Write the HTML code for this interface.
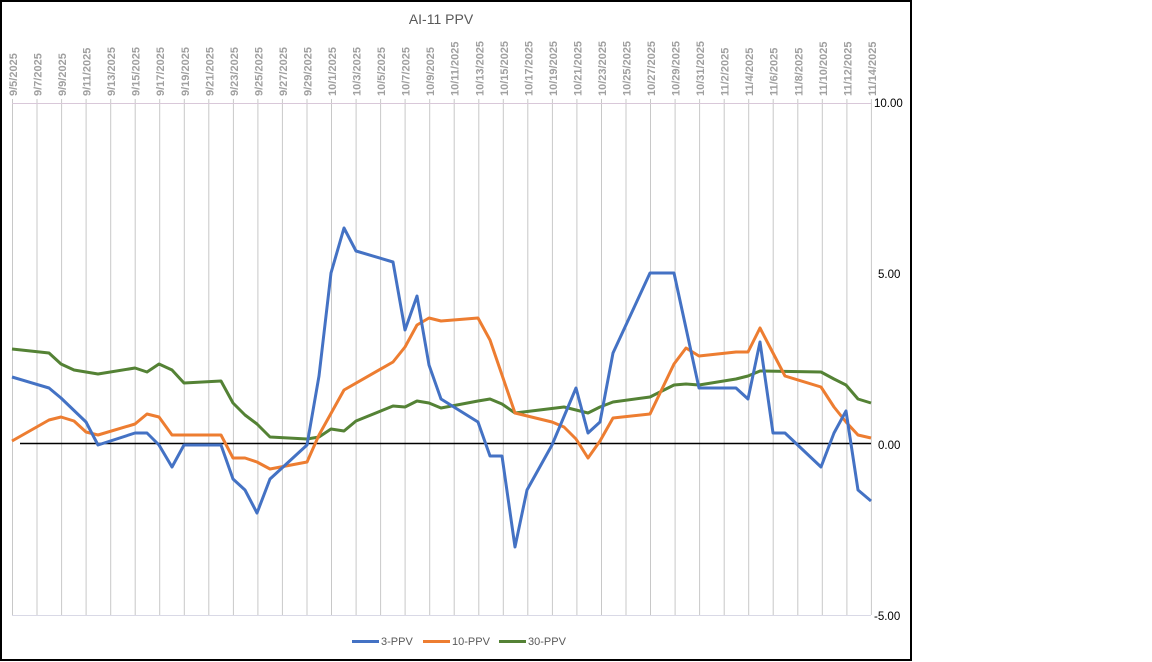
<!DOCTYPE html>
<html><head><meta charset="utf-8"><style>html,body{margin:0;padding:0;background:#fff}svg{display:block}</style></head>
<body>
<svg width="1152" height="662" viewBox="0 0 1152 662" xmlns="http://www.w3.org/2000/svg" font-family="Liberation Sans, sans-serif">
<rect x="0" y="0" width="1152" height="662" fill="#fff"/>
<rect x="1" y="1" width="910" height="659" fill="none" stroke="#000" stroke-width="2"/>
<text x="441" y="24" font-size="14" fill="#595959" text-anchor="middle">AI-11 PPV</text>
<g stroke="#c8c8c8" stroke-width="1">
<line x1="12.5" y1="99" x2="12.5" y2="615"/><line x1="37" y1="99" x2="37" y2="615"/><line x1="61.6" y1="99" x2="61.6" y2="615"/><line x1="86.1" y1="99" x2="86.1" y2="615"/><line x1="110.7" y1="99" x2="110.7" y2="615"/><line x1="135.2" y1="99" x2="135.2" y2="615"/><line x1="159.7" y1="99" x2="159.7" y2="615"/><line x1="184.3" y1="99" x2="184.3" y2="615"/><line x1="208.8" y1="99" x2="208.8" y2="615"/><line x1="233.4" y1="99" x2="233.4" y2="615"/><line x1="257.9" y1="99" x2="257.9" y2="615"/><line x1="282.4" y1="99" x2="282.4" y2="615"/><line x1="307" y1="99" x2="307" y2="615"/><line x1="331.5" y1="99" x2="331.5" y2="615"/><line x1="356.1" y1="99" x2="356.1" y2="615"/><line x1="380.6" y1="99" x2="380.6" y2="615"/><line x1="405.1" y1="99" x2="405.1" y2="615"/><line x1="429.7" y1="99" x2="429.7" y2="615"/><line x1="454.2" y1="99" x2="454.2" y2="615"/><line x1="478.8" y1="99" x2="478.8" y2="615"/><line x1="503.3" y1="99" x2="503.3" y2="615"/><line x1="527.8" y1="99" x2="527.8" y2="615"/><line x1="552.4" y1="99" x2="552.4" y2="615"/><line x1="576.9" y1="99" x2="576.9" y2="615"/><line x1="601.5" y1="99" x2="601.5" y2="615"/><line x1="626" y1="99" x2="626" y2="615"/><line x1="650.5" y1="99" x2="650.5" y2="615"/><line x1="675.1" y1="99" x2="675.1" y2="615"/><line x1="699.6" y1="99" x2="699.6" y2="615"/><line x1="724.2" y1="99" x2="724.2" y2="615"/><line x1="748.7" y1="99" x2="748.7" y2="615"/><line x1="773.2" y1="99" x2="773.2" y2="615"/><line x1="797.8" y1="99" x2="797.8" y2="615"/><line x1="822.3" y1="99" x2="822.3" y2="615"/><line x1="846.9" y1="99" x2="846.9" y2="615"/><line x1="871.4" y1="99" x2="871.4" y2="615"/>
</g>
<line x1="12" y1="103.5" x2="871" y2="103.5" stroke="#d9c8d9" stroke-width="1"/>
<line x1="12" y1="615.5" x2="871" y2="615.5" stroke="#d9d9e6" stroke-width="1"/>
<g font-size="11" font-weight="bold" fill="#a0a0a0" text-anchor="start">
<text transform="translate(17,96) rotate(-90)">9/5/2025</text>
<text transform="translate(41.5,96) rotate(-90)">9/7/2025</text>
<text transform="translate(66.1,96) rotate(-90)">9/9/2025</text>
<text transform="translate(90.6,96) rotate(-90)">9/11/2025</text>
<text transform="translate(115.2,96) rotate(-90)">9/13/2025</text>
<text transform="translate(139.7,96) rotate(-90)">9/15/2025</text>
<text transform="translate(164.2,96) rotate(-90)">9/17/2025</text>
<text transform="translate(188.8,96) rotate(-90)">9/19/2025</text>
<text transform="translate(213.3,96) rotate(-90)">9/21/2025</text>
<text transform="translate(237.9,96) rotate(-90)">9/23/2025</text>
<text transform="translate(262.4,96) rotate(-90)">9/25/2025</text>
<text transform="translate(286.9,96) rotate(-90)">9/27/2025</text>
<text transform="translate(311.5,96) rotate(-90)">9/29/2025</text>
<text transform="translate(336,96) rotate(-90)">10/1/2025</text>
<text transform="translate(360.6,96) rotate(-90)">10/3/2025</text>
<text transform="translate(385.1,96) rotate(-90)">10/5/2025</text>
<text transform="translate(409.6,96) rotate(-90)">10/7/2025</text>
<text transform="translate(434.2,96) rotate(-90)">10/9/2025</text>
<text transform="translate(458.7,96) rotate(-90)">10/11/2025</text>
<text transform="translate(483.3,96) rotate(-90)">10/13/2025</text>
<text transform="translate(507.8,96) rotate(-90)">10/15/2025</text>
<text transform="translate(532.3,96) rotate(-90)">10/17/2025</text>
<text transform="translate(556.9,96) rotate(-90)">10/19/2025</text>
<text transform="translate(581.4,96) rotate(-90)">10/21/2025</text>
<text transform="translate(606,96) rotate(-90)">10/23/2025</text>
<text transform="translate(630.5,96) rotate(-90)">10/25/2025</text>
<text transform="translate(655,96) rotate(-90)">10/27/2025</text>
<text transform="translate(679.6,96) rotate(-90)">10/29/2025</text>
<text transform="translate(704.1,96) rotate(-90)">10/31/2025</text>
<text transform="translate(728.7,96) rotate(-90)">11/2/2025</text>
<text transform="translate(753.2,96) rotate(-90)">11/4/2025</text>
<text transform="translate(777.7,96) rotate(-90)">11/6/2025</text>
<text transform="translate(802.3,96) rotate(-90)">11/8/2025</text>
<text transform="translate(826.8,96) rotate(-90)">11/10/2025</text>
<text transform="translate(851.4,96) rotate(-90)">11/12/2025</text>
<text transform="translate(875.9,96) rotate(-90)">11/14/2025</text>
</g>
<g font-size="11.5" fill="#000">
<text x="874" y="107">10.00</text>
<text x="878" y="278">5.00</text>
<text x="878" y="449">0.00</text>
<text x="874" y="620">-5.00</text>
</g>
<line x1="20" y1="443.5" x2="871" y2="443.5" stroke="#000" stroke-width="1.5"/>
<polyline fill="none" stroke="#548235" stroke-width="3" stroke-linejoin="round" points="12,349 49,353 61,364 74,370 98,374 135,368 147,372 159,364 172,370 184,383 221,381 233,403 245,415 257,424 270,437 307,439 319,437 331,429 344,431 356,421 393,406 405,407 417,401 429,403 441,408 478,401 490,399 502,404 515,413 564,407 588,413 600,407 613,402 650,397 674,385 686,384 699,385 736,379 748,376 760,371 821,372 834,379 846,385 858,399 871,403"/>
<polyline fill="none" stroke="#ed7d31" stroke-width="3" stroke-linejoin="round" points="12,441 49,420 61,417 74,421 86,432 98,435 135,424 147,414 159,417 172,435 221,435 233,458 245,458 257,462 270,469 307,462 319,435 344,390 393,362 405,347 417,325 429,318 441,321 478,318 490,340 502,375 515,413 552,422 564,427 576,439 588,458 600,441 613,418 650,414 674,364 686,348 699,356 736,352 748,352 760,328 773,353 785,376 821,387 834,407 846,422 858,435 871,438"/>
<polyline fill="none" stroke="#4472c4" stroke-width="3" stroke-linejoin="round" points="12,377 49,388 61,398 86,422 98,445 135,433 147,433 159,445 172,467 184,445 221,445 233,479 245,490 257,513 270,479 307,445 319,376 331,273 344,228 356,251 393,262 405,330 417,296 429,365 441,399 478,422 490,456 502,456 515,547 527,490 552,445 576,388 588,433 600,422 613,353 650,273 674,273 699,388 736,388 748,399 760,342 773,433 785,433 821,467 834,433 846,411 858,490 871,501"/>
<g font-size="11" fill="#595959">
<line x1="352" y1="641.5" x2="379" y2="641.5" stroke="#4472c4" stroke-width="3"/><text x="381" y="645">3-PPV</text>
<line x1="423" y1="641.5" x2="450" y2="641.5" stroke="#ed7d31" stroke-width="3"/><text x="452" y="645">10-PPV</text>
<line x1="499" y1="641.5" x2="526" y2="641.5" stroke="#548235" stroke-width="3"/><text x="528" y="645">30-PPV</text>
</g>
</svg>
</body></html>
